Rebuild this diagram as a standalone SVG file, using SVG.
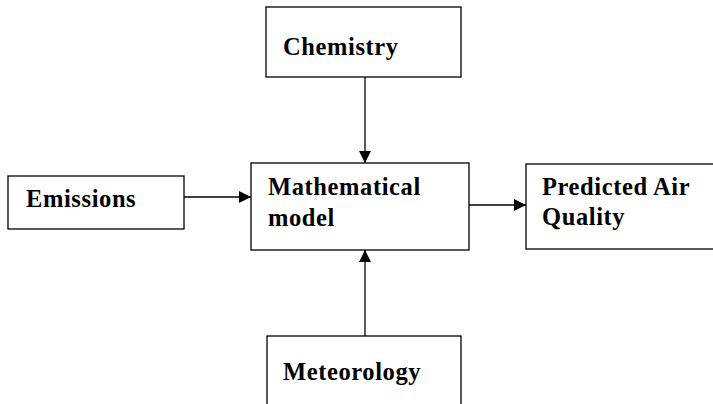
<svg xmlns="http://www.w3.org/2000/svg" width="713" height="404" viewBox="0 0 713 404">
<style>
.box{fill:#fff;stroke:#000;stroke-width:1.3}
.t{font-family:"Liberation Serif","Times New Roman",serif;font-weight:bold;font-size:24.5px;letter-spacing:0.6px;fill:#000}
.c{stroke:#000;stroke-width:1.3;fill:none}
</style>
<defs>
<marker id="ah" markerWidth="12" markerHeight="12" viewBox="0 0 12 12" refX="12" refY="6" orient="auto" markerUnits="userSpaceOnUse">
<path d="M0,0 L12,6 L0,12 Z" fill="#000"/>
</marker>
</defs>
<rect width="713" height="404" fill="#fff"/>
<g id="connectors">
<line class="c" x1="365" y1="77" x2="365" y2="163" marker-end="url(#ah)"/>
<line class="c" x1="184" y1="197" x2="251" y2="197" marker-end="url(#ah)"/>
<line class="c" x1="467" y1="205" x2="526" y2="205" marker-end="url(#ah)"/>
<line class="c" x1="365" y1="336" x2="365" y2="250" marker-end="url(#ah)"/>
</g>
<g id="chemistry">
<rect class="box" x="266" y="7" width="195" height="70"/>
<text class="t" x="283" y="55">Chemistry</text>
</g>
<g id="emissions">
<rect class="box" x="8" y="176" width="176" height="53"/>
<text class="t" x="26" y="207">Emissions</text>
</g>
<g id="model">
<rect class="box" x="251" y="163" width="218" height="87"/>
<text class="t" x="268" y="195">Mathematical</text>
<text class="t" x="268" y="226">model</text>
</g>
<g id="predicted">
<rect class="box" x="526" y="164" width="200" height="85"/>
<text class="t" x="542" y="195">Predicted Air</text>
<text class="t" x="542" y="225">Quality</text>
</g>
<g id="meteorology">
<rect class="box" x="267" y="336" width="194" height="90"/>
<text class="t" x="283" y="380">Meteorology</text>
</g>
</svg>
